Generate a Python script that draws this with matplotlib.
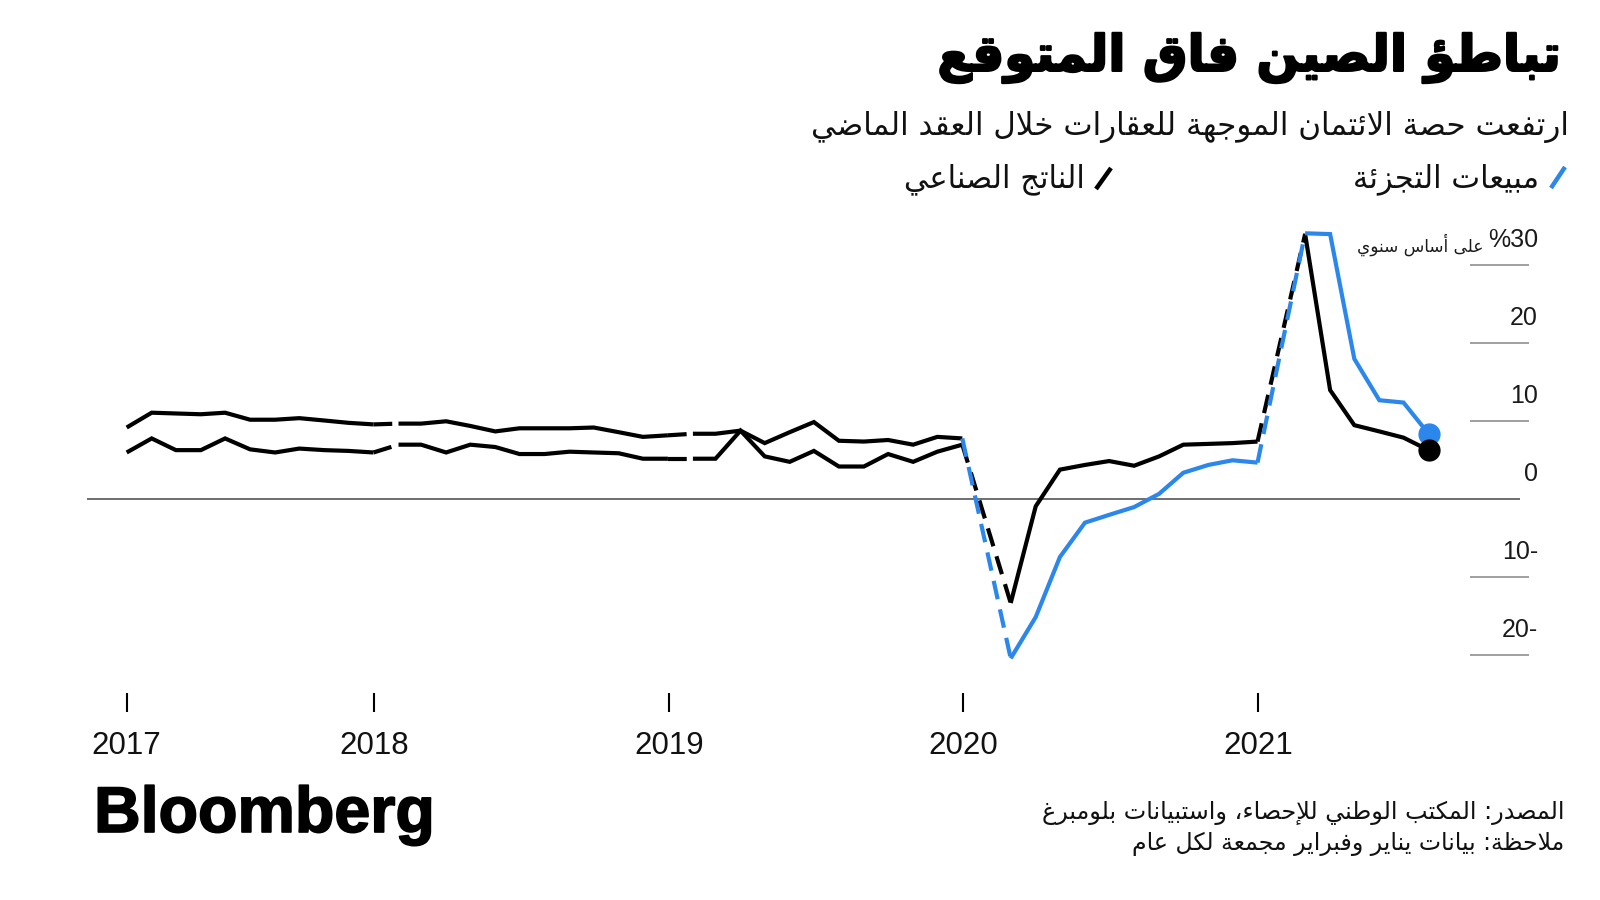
"""
Bloomberg tarzı grafik: Çin perakende satışları vs sanayi üretimi (% yıllık).
Ocak-Şubat verileri birleşik; Aralık -> yeni yıl bağlantısı kesikli çiziliyor.
Arapça metin matplotlib'de şekillenmediği için basit bir harf-biçimi dönüşümü yapılıyor.
"""

from __future__ import annotations

import re

import matplotlib

matplotlib.use("Agg")
import matplotlib.patheffects as pe
import matplotlib.pyplot as plt
import matplotlib.transforms as mtransforms
import numpy as np
import pandas as pd
from matplotlib.lines import Line2D

OUT_PATH = "out.png"

BLUE = "#2b87eb"
BLACK = "#000000"
GRID = "#8f8f8f"
ZERO = "#555555"
AR_FONT = "DejaVu Sans"
LATIN_FONT = "Liberation Sans"

# --- veri: % yıllık, ay sonu tarihleri (Şub 2017 .. Tem 2021) ---
dates = pd.date_range("2017-02-01", "2021-07-31", freq="ME")

retail_2017 = [9.2, 11.1, 11.0, 10.9, 11.1, 10.2, 10.2, 10.4, 10.1, 9.8, 9.6]  # Şub..Ara
retail_2018 = [9.7, 9.7, 10.0, 9.4, 8.7, 9.1, 9.1, 9.1, 9.2, 8.6, 8.0, 8.2]  # Oca..Ara
retail_2019 = [8.4, 8.4, 8.8, 7.2, 8.6, 9.9, 7.5, 7.4, 7.6, 7.0, 8.0, 7.8]
retail_2020 = [np.nan, -20.4, -15.1, -7.4, -3.0, -2.0, -1.0, 0.7, 3.4, 4.4, 5.0, 4.7]
retail_2021 = [np.nan, 34.1, 34.0, 18.0, 12.7, 12.4, 8.4]

output_2017 = [6.0, 7.8, 6.3, 6.3, 7.8, 6.4, 6.0, 6.5, 6.3, 6.2, 6.0]
output_2018 = [7.0, 7.0, 6.0, 7.0, 6.7, 5.8, 5.8, 6.1, 6.0, 5.9, 5.2, 5.2]
output_2019 = [5.2, 5.2, 8.8, 5.5, 4.8, 6.2, 4.2, 4.2, 5.8, 4.8, 6.1, 7.0]
output_2020 = [np.nan, -13.3, -0.9, 3.8, 4.4, 4.9, 4.3, 5.5, 7.0, 7.1, 7.2, 7.4]
output_2021 = [np.nan, 34.0, 14.0, 9.5, 8.7, 7.9, 6.3]

years = [2017, 2018, 2019, 2020, 2021]
y_ticks = [30, 20, 10, 0, -10, -20]
y_tick_labels = ["%30", "20", "10", "0", "10-", "20-"]
color_from_year = 2020  # perakende serisi bu yıldan itibaren mavi

TITLE = "تباطؤ الصين فاق المتوقع"
SUBTITLE = "ارتفعت حصة الائتمان الموجهة للعقارات خلال العقد الماضي"
LEGEND_RETAIL = "مبيعات التجزئة"
LEGEND_OUTPUT = "الناتج الصناعي"
UNIT = "على أساس سنوي"
SOURCE = "المصدر: المكتب الوطني للإحصاء، واستبيانات بلومبرغ"
NOTE = "ملاحظة: بيانات يناير وفبراير مجمعة لكل عام"

# --- Arapça harf biçimleri (Presentation Forms-B) ---
DUAL = {
    "ئ": 0xFE89, "ب": 0xFE8F, "ت": 0xFE95, "ث": 0xFE99, "ج": 0xFE9D, "ح": 0xFEA1,
    "خ": 0xFEA5, "س": 0xFEB1, "ش": 0xFEB5, "ص": 0xFEB9, "ض": 0xFEBD, "ط": 0xFEC1,
    "ظ": 0xFEC5, "ع": 0xFEC9, "غ": 0xFECD, "ف": 0xFED1, "ق": 0xFED5, "ك": 0xFED9,
    "ل": 0xFEDD, "م": 0xFEE1, "ن": 0xFEE5, "ه": 0xFEE9, "ي": 0xFEF1,
}
RIGHT = {
    "آ": 0xFE81, "أ": 0xFE83, "ؤ": 0xFE85, "إ": 0xFE87, "ا": 0xFE8D, "ة": 0xFE93,
    "د": 0xFEA9, "ذ": 0xFEAB, "ر": 0xFEAD, "ز": 0xFEAF, "و": 0xFEED, "ى": 0xFEEF,
}
LAM_ALEF = {"آ": 0xFEF5, "أ": 0xFEF7, "إ": 0xFEF9, "ا": 0xFEFB}


def shape_arabic(text: str) -> str:
    """Harfleri bağlamına göre (yalın/son/baş/orta) biçime çevir."""
    out = []
    n = len(text)
    i = 0
    while i < n:
        ch = text[i]
        prev = text[i - 1] if i > 0 else ""
        joins_prev = prev in DUAL and (ch in DUAL or ch in RIGHT)
        if ch == "ل" and i + 1 < n and text[i + 1] in LAM_ALEF:
            out.append(chr(LAM_ALEF[text[i + 1]] + (1 if joins_prev else 0)))
            i += 2
            continue
        nxt = text[i + 1] if i + 1 < n else ""
        if ch in DUAL:
            joins_next = nxt in DUAL or nxt in RIGHT
            base = DUAL[ch]
            if joins_prev and joins_next:
                code = base + 3
            elif joins_prev:
                code = base + 1
            elif joins_next:
                code = base + 2
            else:
                code = base
            out.append(chr(code))
        elif ch in RIGHT:
            out.append(chr(RIGHT[ch] + (1 if joins_prev else 0)))
        elif ch == "ء":
            out.append(chr(0xFE80))
        else:
            out.append(ch)
        i += 1
    return "".join(out)


def ar(text: str) -> str:
    """Şekillendir + sağdan sola görsel sıraya çevir (rakam dizileri LTR kalır)."""
    rev = shape_arabic(text)[::-1]
    return re.sub(r"[0-9A-Za-z.]+", lambda m: m.group(0)[::-1], rev)


def px(x: float, y: float) -> tuple[float, float]:
    """1600x900 piksel -> figür kesri."""
    return x / 1600, 1 - y / 900


def draw_series(ax, values: np.ndarray, blue_from: int | None) -> None:
    """Yıl içi düz, Aralık -> yeni yıl ilk noktası kesikli."""
    s = pd.Series(values, index=dates).dropna()
    for k, yr in enumerate(years):
        seg = s[s.index.year == yr]
        col = BLUE if (blue_from is not None and yr >= blue_from) else BLACK
        ax.plot(seg.index, seg.values, color=col, lw=3.0,
                solid_joinstyle="miter", solid_capstyle="butt", zorder=3)
        if k + 1 < len(years):
            nxt = s[s.index.year == years[k + 1]]
            col_n = BLUE if (blue_from is not None and years[k + 1] >= blue_from) else BLACK
            ax.plot([seg.index[-1], nxt.index[0]], [seg.values[-1], nxt.values[0]],
                    color=col_n, lw=3.0, linestyle=(0, (4.5, 2.5)),
                    dash_capstyle="butt", zorder=3)


def main() -> None:
    retail = np.array(retail_2017 + retail_2018 + retail_2019 + retail_2020 + retail_2021)
    output = np.array(output_2017 + output_2018 + output_2019 + output_2020 + output_2021)

    fig = plt.figure(figsize=(16, 9), dpi=100)
    fig.patch.set_facecolor("white")

    # çizim alanı: x 87..1530 px, y 200..770 px
    left, top = px(87, 200)
    right, bottom = px(1530, 770)
    ax = fig.add_axes([left, bottom, right - left, top - bottom])
    ax.set_axis_off()

    day0 = pd.Timestamp("2018-01-01")
    ax.set_xlim(day0 + pd.Timedelta(days=-356.2), day0 + pd.Timedelta(days=1432.8))
    ax.set_ylim(-34.71, 38.37)

    # ızgara: sağda kısa çizgiler, sıfır çizgisi boydan
    ytr = ax.get_yaxis_transform()
    for v in y_ticks:
        if v == 0:
            ax.hlines(0, 0, 0.993, transform=ytr, color=ZERO, lw=1.2, zorder=1)
        else:
            ax.hlines(v, 0.9584, 0.9993, transform=ytr, color=GRID, lw=1.2, zorder=1)

    lab_tr = mtransforms.offset_copy(ytr, fig=fig, x=0, y=25, units="dots")
    for v, lab in zip(y_ticks, y_tick_labels):
        ax.text(1.0055, v, lab, transform=lab_tr, ha="right", va="center",
                fontsize=18, family=LATIN_FONT, color="#1a1a1a")
    ax.text(0.9675, y_ticks[0], ar(UNIT),
            transform=mtransforms.offset_copy(ytr, fig=fig, x=0, y=21, units="dots"),
            ha="right", va="center", fontsize=12.2, family=AR_FONT, color="#1a1a1a")

    # yıl işaretleri
    xtr = ax.get_xaxis_transform()
    tick_dates = [dates[0]] + [pd.Timestamp(f"{y}-01-01") for y in years[1:]]
    ax.vlines(tick_dates, 0.1018, 0.1351, transform=xtr, color=BLACK, lw=1.5)
    for d, y in zip(tick_dates, years):
        ax.text(d, 0.0420, str(y), transform=xtr, ha="center", va="center",
                fontsize=22.5, family=LATIN_FONT, color="#111111")

    # seriler: önce sanayi (siyah), sonra perakende
    draw_series(ax, output, blue_from=None)
    draw_series(ax, retail, blue_from=color_from_year)
    last = pd.Series(retail, index=dates).dropna()
    ax.plot(last.index[-1], last.values[-1], "o", ms=15, color=BLUE, zorder=5)
    last_o = pd.Series(output, index=dates).dropna()
    ax.plot(last_o.index[-1], last_o.values[-1], "o", ms=15, color=BLACK, zorder=6)

    # başlıklar
    fig.text(*px(1561, 58), ar(TITLE), ha="right", va="center",
             fontsize=36, fontweight="bold", family=AR_FONT,
             path_effects=[pe.withStroke(linewidth=1.6, foreground=BLACK)])
    fig.text(*px(1569, 127), ar(SUBTITLE), ha="right", va="center",
             fontsize=22.3, family=AR_FONT, color="#111111")

    # lejant
    fig.text(*px(1539, 179), ar(LEGEND_RETAIL), ha="right", va="center",
             fontsize=22, family=AR_FONT, color="#111111")
    fig.text(*px(1085, 179), ar(LEGEND_OUTPUT), ha="right", va="center",
             fontsize=22, family=AR_FONT, color="#111111")
    for (x0, y0, x1, y1), col in [((1551, 188, 1565, 167), BLUE),
                                  ((1096, 189, 1111, 168), BLACK)]:
        (fx0, fy0), (fx1, fy1) = px(x0, y0), px(x1, y1)
        fig.add_artist(Line2D([fx0, fx1], [fy0, fy1], transform=fig.transFigure,
                              color=col, lw=3.2, solid_capstyle="butt"))

    # kaynak ve logo
    fig.text(*px(1564, 813), ar(SOURCE), ha="right", va="center",
             fontsize=17.2, family=AR_FONT, color="#111111")
    fig.text(*px(1564, 844), ar(NOTE), ha="right", va="center",
             fontsize=17.0, family=AR_FONT, color="#111111")
    fig.text(*px(94, 832), "Bloomberg", ha="left", va="baseline",
             fontsize=46.5, fontweight="bold", family=LATIN_FONT,
             path_effects=[pe.withStroke(linewidth=1.2, foreground=BLACK)])

    fig.savefig(OUT_PATH, dpi=100, facecolor="white")
    plt.close(fig)


if __name__ == "__main__":
    main()
